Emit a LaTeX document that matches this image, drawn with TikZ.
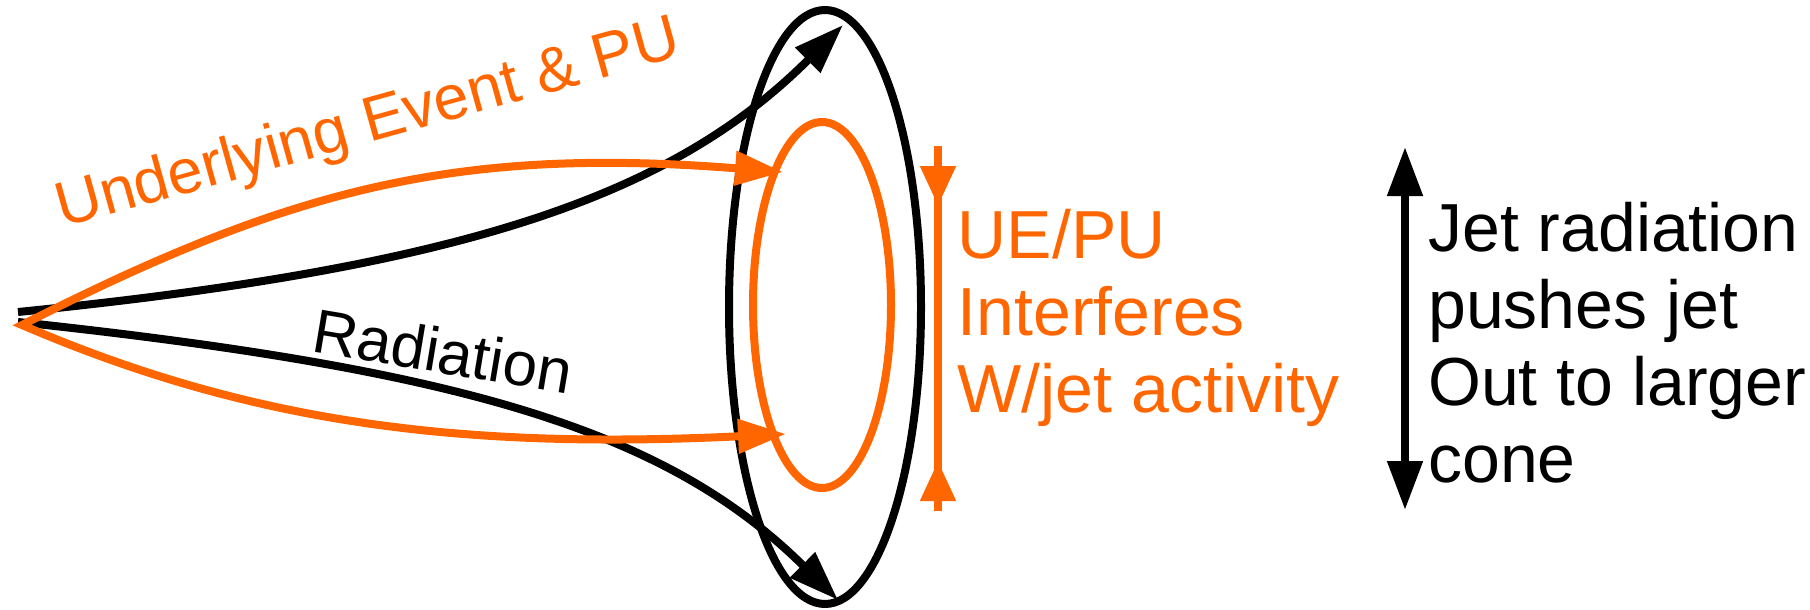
\documentclass[tikz,border=0pt]{standalone}
\usepackage{fontspec}
\setmainfont{Liberation Sans}
\usetikzlibrary{arrows.meta}
\definecolor{uorange}{RGB}{255,102,0}
\begin{document}
\begin{tikzpicture}[x=1pt,y=-1pt,
  blk/.style={draw=black,line width=8pt},
  org/.style={draw=uorange,line width=8pt},
  bhead/.style={-{Triangle[length=50pt,width=34pt]}},
  ohead/.style={{Triangle[length=48pt,width=33pt]}-{Triangle[length=48pt,width=33pt]}},
  vhead/.style={-{Triangle[length=40pt,width=34pt]}},
  dhead/.style={{Triangle[length=49pt,width=34pt]}-{Triangle[length=49pt,width=34pt]}},
  bigtxt/.style={inner sep=0pt,anchor=base west,align=left,font=\fontsize{68}{77}\selectfont},
  rottxt/.style={inner sep=0pt,anchor=base west}
]
\useasboundingbox (0,0) rectangle (1810,610);

% coordinates
\coordinate (bu0) at (18,312);
\coordinate (bl0) at (18,322);
\coordinate (vtx) at (22,325);
\coordinate (buT) at (843,25);
\coordinate (blT) at (838,600);
\coordinate (ouT) at (783,172);
\coordinate (olT) at (786,434);
\coordinate (oc) at (825,307);
\coordinate (ic) at (822,305);
\coordinate (uvT) at (938,146);
\coordinate (uvTh) at (938,206);
\coordinate (uvB) at (938,511);
\coordinate (uvBh) at (938,461);
\coordinate (jaT) at (1405,147);
\coordinate (jaB) at (1405,510);

% outer black ring
\draw[blk] (oc) ellipse [x radius=96pt, y radius=297pt];

% black radiation curves
\draw[blk,bhead] (bu0) .. controls (468,267) and (673,195) .. (buT);
\draw[blk,bhead] (bl0) .. controls (468,370) and (668,432) .. (blT);

% inner orange ring
\draw[org] (ic) ellipse [x radius=69pt, y radius=183pt];

% orange UE curves
\draw[org,ohead,line join=miter] (ouT) .. controls (453,146) and (288,190) .. (vtx)
   .. controls (248,422) and (456,450) .. (olT);

% orange vertical marker
\draw[draw=uorange,line width=8pt] (uvT) -- (uvB);
\draw[draw=uorange,line width=8pt,vhead] (uvT) -- (uvTh);
\draw[draw=uorange,line width=8pt,vhead] (uvB) -- (uvBh);

% black double arrow
\draw[draw=black,line width=8pt,dhead] (jaT) -- (jaB);

% texts
\node[rottxt,rotate=15.5,text=uorange,font=\fontsize{63}{70}\selectfont] (uelab) at (62,228) {Underlying Event \& PU};
\node[rottxt,rotate=-9.5,font=\fontsize{62}{70}\selectfont] (radlab) at (310,351) {Radiation};
\node[bigtxt,text=uorange] (uetxt) at (957.5,412) {UE/PU\\Interferes\\W/jet activity};
\node[bigtxt] (jettxt) at (1428,482) {Jet radiation\\pushes jet\\Out to larger\\cone};
\end{tikzpicture}
\end{document}
